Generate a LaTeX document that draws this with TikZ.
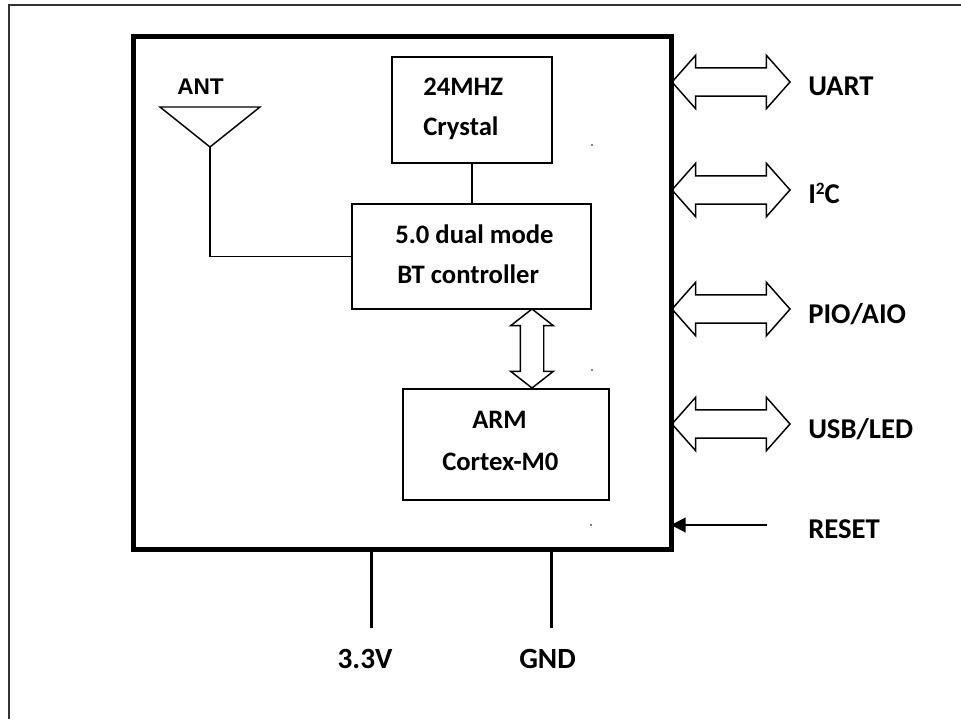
\documentclass[tikz,border=0pt]{standalone}
\usepackage{fontspec}
\setmainfont{Carlito}
\newfontfamily\antfont{Liberation Sans}
\usepackage{tikz}
\usetikzlibrary{calc}
\usetikzlibrary{shapes.arrows,arrows.meta}

\begin{document}
\begin{tikzpicture}[x=0.75pt, y=-0.75pt,
        block/.style={rectangle, draw, line width=1.1pt, inner sep=0pt, outer sep=0pt},
        chipbox/.style={rectangle, draw, line width=3.75pt, inner sep=0pt, outer sep=0pt, minimum width=403.5pt, minimum height=384.75pt},
        txt/.style={font=\bfseries\fontsize{20}{24}\selectfont, inner sep=0pt, anchor=base west},
        pin/.style={font=\bfseries\fontsize{21.5}{26}\selectfont, inner sep=0pt, anchor=base west},
        bus/.style={double arrow, draw, line width=1.1pt, inner xsep=0pt, inner ysep=10.1pt, minimum height=88.5pt, double arrow head extend=9.4pt, double arrow tip angle=97},
        wire/.style={line width=1.1pt},
        supply/.style={line width=2.25pt},
        resetline/.style={line width=1.5pt, -{Triangle[length=11pt, width=11pt]}}
    ]
        \useasboundingbox (0,0) rectangle (961,719);

        % Frame
        \draw[line width=1.5pt, black!80] (961,5) -- (9,5) -- (9,719);

        % Nodes
        \node[chipbox] (chip) at (402,292.5) {};
        \node[block, minimum width=120pt, minimum height=79.5pt] (crystal) at (472,110) {};
        \node[block, minimum width=179.25pt, minimum height=78.75pt] (bt) at (471.5,256.5) {};
        \node[block, minimum width=154.5pt, minimum height=83.25pt] (arm) at (506,444.5) {};

        \node[txt] (crystal1) at (423,95) {24MHZ};
        \node[txt] (crystal2) at (423,135) {Crystal};
        \node[txt] (bt1) at (395,243) {5.0 dual mode};
        \node[txt] (bt2) at (397,283) {BT controller};
        \node[txt] (arm1) at (472,428) {ARM};
        \node[txt] (arm2) at (442,470) {Cortex-M0};

        % Antenna
        \coordinate (ant) at (210,147);
        \draw[wire] (160,107) -- (260,107) -- (ant) -- cycle;
        \node[font=\antfont\bfseries\fontsize{17}{20}\selectfont, inner sep=0pt, anchor=base west] (antlabel) at (177,94) {ANT};
        \draw[wire] (ant) |- (bt.west);
        \draw[wire] (crystal.south) -- (crystal.south |- bt.north);

        % Internal bus
        \node[bus, rotate=90, minimum height=59.25pt, inner ysep=8.25pt, double arrow head extend=7.1pt, double arrow tip angle=104] (intbus) at (532,348.5) {};

        % Interfaces
        \node[bus] (uart) at (731,82) {};
        \node[bus] (iic) at (731,190) {};
        \node[bus] (pio) at (731,309) {};
        \node[bus] (usb) at (731,424) {};

        \node[pin] (uartlabel) at (808,95) {UART};
        \node[pin] (iiclabel) at (808,203) {I\raisebox{0.6ex}{\fontsize{13}{14}\selectfont 2}C};
        \node[pin] (piolabel) at (808,323) {PIO/AIO};
        \node[pin] (usblabel) at (808,438) {USB/LED};
        \node[pin] (resetlabel) at (808,538) {RESET};

        \coordinate (rst) at (767,525);
        \draw[resetline] (rst) -- (rst -| chip.east);

        % Supply pins
        \coordinate (v33) at (371,628);
        \coordinate (gnd) at (551,628);
        \draw[supply] (v33 |- chip.south) -- (v33);
        \draw[supply] (gnd |- chip.south) -- (gnd);
        \node[font=\bfseries\fontsize{22}{26}\selectfont, inner sep=0pt, anchor=base] (v33label) at (365,668) {3.3V};
        \node[font=\bfseries\fontsize{22}{26}\selectfont, inner sep=0pt, anchor=base] (gndlabel) at (547.5,668) {GND};

        % Specks
        \fill (592,145) circle (0.9);
        \fill (592,370) circle (0.9);
        \fill (591,525) circle (0.9);
\end{tikzpicture}
\end{document}
